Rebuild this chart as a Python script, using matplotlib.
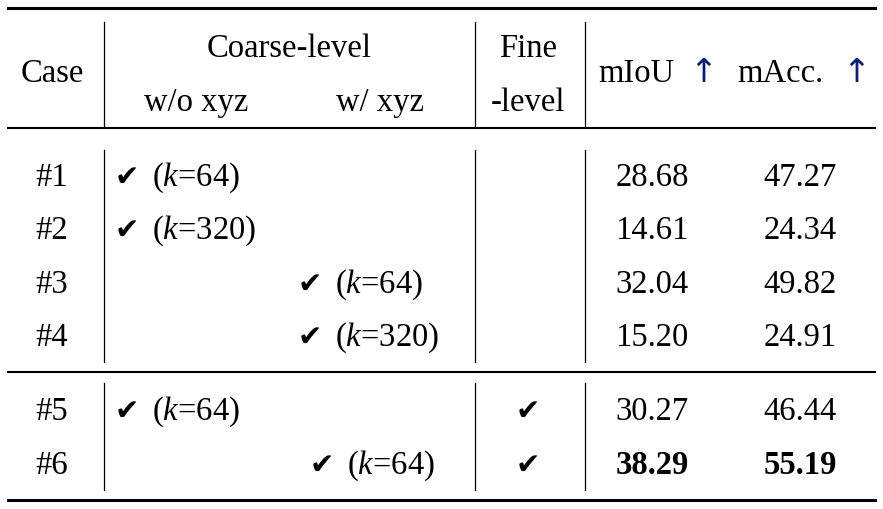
import matplotlib
matplotlib.use("Agg")
import matplotlib.pyplot as plt

plt.rcParams['font.family'] = ['Liberation Serif', 'DejaVu Sans']
plt.rcParams['mathtext.fontset'] = 'custom'
plt.rcParams['mathtext.rm'] = 'Liberation Serif'
plt.rcParams['mathtext.it'] = 'Liberation Serif:italic'

cases = ["#1", "#2", "#3", "#4", "#5", "#6"]
coarse_col = [0, 0, 1, 1, 0, 1]      # 0: w/o xyz, 1: w/ xyz
k_values = [64, 320, 64, 320, 64, 64]
fine = [False, False, False, False, True, True]
miou = ["28.68", "14.61", "32.04", "15.20", "30.27", "38.29"]
macc = ["47.27", "24.34", "49.82", "24.91", "46.44", "55.19"]
best = [False, False, False, False, False, True]

W, H = 883, 509
fig = plt.figure(figsize=(W/100, H/100), dpi=100)
ax = fig.add_axes([0, 0, 1, 1])
ax.set_xlim(0, W); ax.set_ylim(H, 0); ax.axis('off')

FS = 23.5
k = dict(fontsize=FS, va='center', color='black')
arrow_c = '#0b1e6e'
CK = dict(fontsize=21, va='center', color='black', family=['DejaVu Sans'])

# rules
ax.plot([8, 875], [8, 8], color='black', lw=2.2)
ax.plot([8, 875], [128, 128], color='black', lw=1.5)
ax.plot([8, 875], [372, 372], color='black', lw=1.5)
ax.plot([8, 875], [500, 500], color='black', lw=2.2)
for x in (104, 475, 585):
    for y0, y1 in ((22, 126), (150, 362), (383, 490)):
        ax.plot([x, x], [y0, y1], color='black', lw=0.9)

dy = 2
# header
ax.text(52, 72 + dy, "Case", ha='center', **k)
ax.text(289, 47 + dy, "Coarse-level", ha='center', **k)
ax.text(196, 101 + dy, "w/o xyz", ha='center', **k)
ax.text(380, 101 + dy, "w/ xyz", ha='center', **k)
ax.text(528, 47 + dy, "Fine", ha='center', **k)
ax.text(528, 101 + dy, "-level", ha='center', **k)
ax.text(598, 72 + dy, "mIoU", ha='left', **k)
ax.text(703, 72, "↑", ha='center', fontsize=24, va='center', color=arrow_c,
        family=['DejaVu Sans'])
ax.text(737, 72 + dy, "mAcc.", ha='left', **k)
ax.text(856, 72, "↑", ha='center', fontsize=24, va='center', color=arrow_c,
        family=['DejaVu Sans'])

row_y = [176, 229, 283, 336, 410, 464]
for i, y in enumerate(row_y):
    y = y + dy
    ax.text(52, y, cases[i], ha='center', **k)
    if coarse_col[i] == 0:
        cx = 115
    else:
        cx = 310 if fine[i] else 298
    ax.text(cx, y, "✔", ha='left', **CK)
    ax.text(cx + 37, y, r"($k$=%d)" % k_values[i], ha='left', **k)
    if fine[i]:
        ax.text(528, y, "✔", ha='center', **CK)
    fw = 'bold' if best[i] else 'normal'
    ax.text(652, y, miou[i], ha='center', fontweight=fw, **k)
    ax.text(800, y, macc[i], ha='center', fontweight=fw, **k)

fig.savefig("out.png", dpi=100)
